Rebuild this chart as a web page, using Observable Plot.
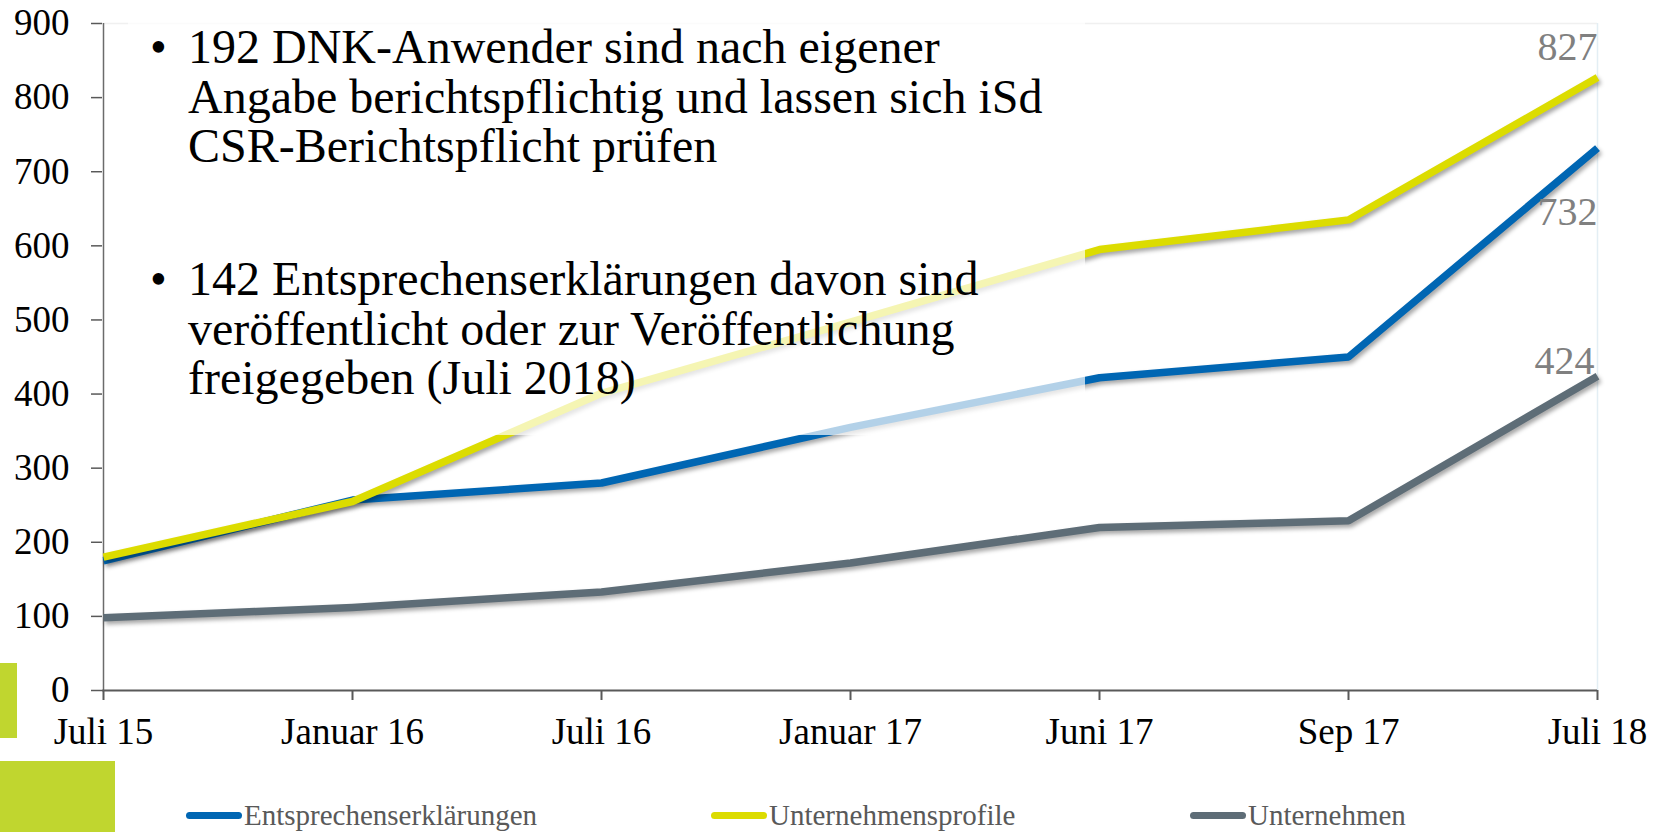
<!DOCTYPE html>
<html>
<head>
<meta charset="utf-8">
<script src="https://cdn.jsdelivr.net/npm/d3@7"></script>
<script src="https://cdn.jsdelivr.net/npm/@observablehq/plot@0.6"></script>
<style>
  html, body { margin: 0; padding: 0; background: #fff; }
  body { width: 1665px; height: 832px; overflow: hidden; position: relative; font-family: "Liberation Serif", "Times New Roman", serif; }
  #chart { position: absolute; left: 0; top: 0; }
  #note { position: absolute; left: 128px; top: 0; width: 957px; height: 435px; background: rgba(255,255,255,0.7); z-index: 2; }
  #note .p { position: absolute; left: 60px; font-family: "Liberation Serif", "Times New Roman", serif; font-size: 48px; line-height: 49.5px; color: #000; white-space: nowrap; }
  #note .p .b { position: absolute; left: -38px; top: 0; }
  .deco { position: absolute; background: #c0d62f; z-index: 3; }
  #legend { position: absolute; left: 0; top: 798px; width: 1665px; height: 34px; font-size: 29px; color: #595959; }
  #legend .item { position: absolute; top: 0; height: 34px; display: flex; align-items: center; white-space: nowrap; }
  #legend .sw { width: 56px; height: 7px; border-radius: 4px; margin-right: 2px; }
</style>
</head>
<body>
<div id="chart"></div>
<div id="note"></div>
<div class="deco" style="left:0;top:663px;width:17px;height:75px;"></div>
<div class="deco" style="left:0;top:761px;width:115px;height:71px;"></div>
<div id="legend"></div>
<script>
// ---- data ----
const periods = ["Juli 15", "Januar 16", "Juli 16", "Januar 17", "Juni 17", "Sep 17", "Juli 18"];
const seriesNames = ["Entsprechenserklärungen", "Unternehmensprofile", "Unternehmen"];
const entsprechenserklaerungen = [175, 257, 280, 355, 422, 450, 732];
const unternehmensprofile = [180, 255, 401, 497, 595, 635, 827];
const unternehmen = [98, 112, 133, 172, 220, 229, 424];
const seriesColors = ["#0066b3", "#dcdc00", "#5e6d77"];
const yTicks = [0, 100, 200, 300, 400, 500, 600, 700, 800, 900];
const noteParagraphs = [
  ["192 DNK-Anwender sind nach eigener", "Angabe berichtspflichtig und lassen sich iSd", "CSR-Berichtspflicht prüfen"],
  ["142 Entsprechenserklärungen davon sind", "veröffentlicht oder zur Veröffentlichung", "freigegeben (Juli 2018)"]
];

const seriesValues = [entsprechenserklaerungen, unternehmensprofile, unternehmen];
const data = seriesNames.flatMap((s, si) => periods.map((p, i) => ({series: s, period: p, value: seriesValues[si][i]})));
const last = periods[periods.length - 1];
const lastOf = (s) => data.filter(d => d.series === s && d.period === last);

const font = "Liberation Serif, Times New Roman, serif";
const plot = Plot.plot({
  width: 1665,
  height: 775,
  marginLeft: 102,
  marginRight: 68,
  marginTop: 23,
  marginBottom: 85,
  style: {fontFamily: font, fontSize: "37px", color: "#000", background: "transparent", overflow: "visible"},
  x: {type: "point", domain: periods, padding: 0, label: null},
  y: {domain: [0, 900], label: null},
  color: {domain: seriesNames, range: seriesColors},
  marks: [
    Plot.ruleY([900], {stroke: "#f0f0f0", strokeWidth: 1.5}),
    Plot.ruleX([last], {y1: 0, y2: 900, stroke: "#e3eef4", strokeWidth: 1.5}),
    Plot.axisY({ticks: yTicks, tickSize: 11, tickPadding: 22, stroke: "#595959", fill: "#000", strokeWidth: 1.5, fontSize: 37, label: null}),
    Plot.axisX({tickSize: 10, tickPadding: 17, stroke: "#595959", fill: "#000", strokeWidth: 2, fontSize: 37, label: null}),
    Plot.ruleX([periods[0]], {y1: 0, y2: 900, stroke: "#6b6b6b", strokeWidth: 1.5}),
    Plot.ruleY([0], {stroke: "#595959", strokeWidth: 2}),
    Plot.line(data, {x: "period", y: "value", z: "series", stroke: "series", strokeWidth: 7.5, strokeLinejoin: "round", strokeLinecap: "butt"}),
    Plot.text(lastOf(seriesNames[1]), {x: "period", y: "value", text: d => String(d.value), textAnchor: "end", dy: -30, fill: "#808080", fontSize: 40}),
    Plot.text(lastOf(seriesNames[0]), {x: "period", y: "value", text: d => String(d.value), textAnchor: "end", dy: 64, fill: "#808080", fontSize: 40}),
    Plot.text(lastOf(seriesNames[2]), {x: "period", y: "value", text: d => String(d.value), textAnchor: "end", dx: -3, dy: -15, fill: "#808080", fontSize: 40})
  ]
});
plot.querySelectorAll('g[aria-label="line"] path').forEach(p => {
  p.style.filter = "drop-shadow(2px 3px 2px rgba(0,0,0,0.35))";
});
document.getElementById("chart").appendChild(plot);

// ---- text box ----
const note = document.getElementById("note");
const paraTops = [22, 254];
noteParagraphs.forEach((lines, i) => {
  const div = document.createElement("div");
  div.className = "p";
  div.style.top = paraTops[i] + "px";
  const b = document.createElement("span");
  b.className = "b";
  b.textContent = "•";
  div.appendChild(b);
  lines.forEach((l, j) => {
    if (j) div.appendChild(document.createElement("br"));
    div.appendChild(document.createTextNode(l));
  });
  note.appendChild(div);
});

// ---- legend ----
const legend = document.getElementById("legend");
const legendLeft = [186, 711, 1190];
seriesNames.forEach((s, i) => {
  const it = document.createElement("div");
  it.className = "item";
  it.style.left = legendLeft[i] + "px";
  const sw = document.createElement("div");
  sw.className = "sw";
  sw.style.background = seriesColors[i];
  it.appendChild(sw);
  it.appendChild(document.createTextNode(s));
  legend.appendChild(it);
});
</script>
</body>
</html>
